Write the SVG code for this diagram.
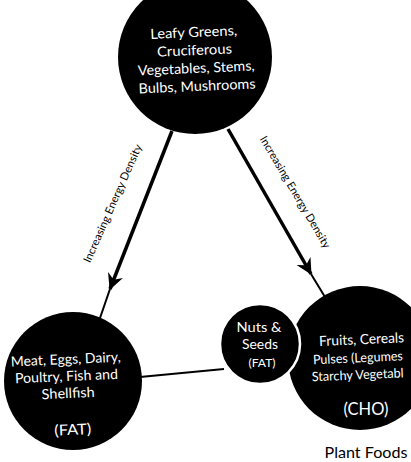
<svg xmlns="http://www.w3.org/2000/svg" width="411" height="462" viewBox="0 0 411 462">
<style>
.node{fill:#000}
.t{font-family:Lato,"Open Sans","Liberation Sans",sans-serif;fill:#fff;text-anchor:middle}
.lbl{font-family:Lato,"Open Sans","Liberation Sans",sans-serif;fill:#000;text-anchor:middle;font-size:11px}
.thick{stroke:#000;stroke-width:3.5;fill:none;marker-end:url(#ah)}
.thin{stroke:#000;stroke-width:2;fill:none}
</style>
<defs>
<marker id="ah" markerUnits="userSpaceOnUse" markerWidth="20" markerHeight="20" refX="0" refY="0" viewBox="-16 -10 20 20" orient="auto">
<path d="M1,0 L-15,-8 L-10,0 L-15,8 Z" fill="#000"/>
</marker>
</defs>
<rect width="411" height="462" fill="#fff"/>
<g id="connectors">
<line class="thick" x1="172" y1="131" x2="110" y2="289"/>
<line class="thin" x1="110" y1="289" x2="100" y2="318"/>
<line class="thick" x1="228" y1="129" x2="311" y2="274"/>
<line class="thin" x1="311" y1="274" x2="325" y2="297"/>
<line class="thin" x1="140" y1="377" x2="224" y2="369"/>
<text class="lbl" x="116" y="205" textLength="128" lengthAdjust="spacingAndGlyphs" transform="rotate(-66 116 205)">Increasing Energy Density</text>
<text class="lbl" x="292" y="194" textLength="128" lengthAdjust="spacingAndGlyphs" transform="rotate(59.5 292 194)">Increasing Energy Density</text>
</g>
<g id="leafy">
<circle class="node" cx="195" cy="57" r="77"/>
<g transform="rotate(-2.5 195 63)">
<text class="t" font-size="14" x="195" y="37" textLength="87" lengthAdjust="spacingAndGlyphs">Leafy Greens,</text>
<text class="t" font-size="14" x="195" y="55" textLength="75" lengthAdjust="spacingAndGlyphs">Cruciferous</text>
<text class="t" font-size="14" x="196" y="73" textLength="117" lengthAdjust="spacingAndGlyphs">Vegetables, Stems,</text>
<text class="t" font-size="14" x="196" y="91" textLength="117" lengthAdjust="spacingAndGlyphs">Bulbs, Mushrooms</text>
</g>
</g>
<g id="meat">
<circle class="node" cx="73" cy="381" r="69"/>
<g transform="rotate(-2.5 68 390)">
<text class="t" font-size="14" x="67" y="364" textLength="110" lengthAdjust="spacingAndGlyphs">Meat, Eggs, Dairy,</text>
<text class="t" font-size="14" x="67" y="381" textLength="103" lengthAdjust="spacingAndGlyphs">Poultry, Fish and</text>
<text class="t" font-size="14" x="68" y="398" textLength="53" lengthAdjust="spacingAndGlyphs">Shellfish</text>
<text class="t" font-size="15" x="71" y="435" textLength="37" lengthAdjust="spacingAndGlyphs">(FAT)</text>
</g>
</g>
<g id="fruits">
<circle class="node" cx="360" cy="358" r="72"/>
<g transform="rotate(-2.5 365 360)">
<text class="t" font-size="14" x="320" y="344" style="text-anchor:start" textLength="85" lengthAdjust="spacingAndGlyphs">Fruits, Cereals</text>
<text class="t" font-size="13" x="313" y="362" style="text-anchor:start" textLength="90" lengthAdjust="spacingAndGlyphs">Pulses (Legumes</text>
<text class="t" font-size="13" x="311" y="379" style="text-anchor:start" textLength="92" lengthAdjust="spacingAndGlyphs">Starchy Vegetabl</text>
</g>
<text class="t" font-size="17" x="366" y="415" textLength="45" lengthAdjust="spacingAndGlyphs">(CHO)</text>
</g>
<g id="nuts">
<circle class="node" cx="260" cy="344" r="40" stroke="#fff" stroke-width="2.5"/>
<text class="t" font-size="14" x="259" y="332" textLength="45" lengthAdjust="spacingAndGlyphs">Nuts &amp;</text>
<text class="t" font-size="14" x="260" y="349" textLength="36" lengthAdjust="spacingAndGlyphs">Seeds</text>
<text class="t" font-size="11" x="262" y="367" textLength="27" lengthAdjust="spacingAndGlyphs">(FAT)</text>
</g>
<g id="plant-foods">
<text x="366" y="458" font-family="Lato,'Open Sans','Liberation Sans',sans-serif" font-size="15" text-anchor="middle" fill="#000" textLength="83" lengthAdjust="spacingAndGlyphs">Plant Foods</text>
</g>
</svg>
